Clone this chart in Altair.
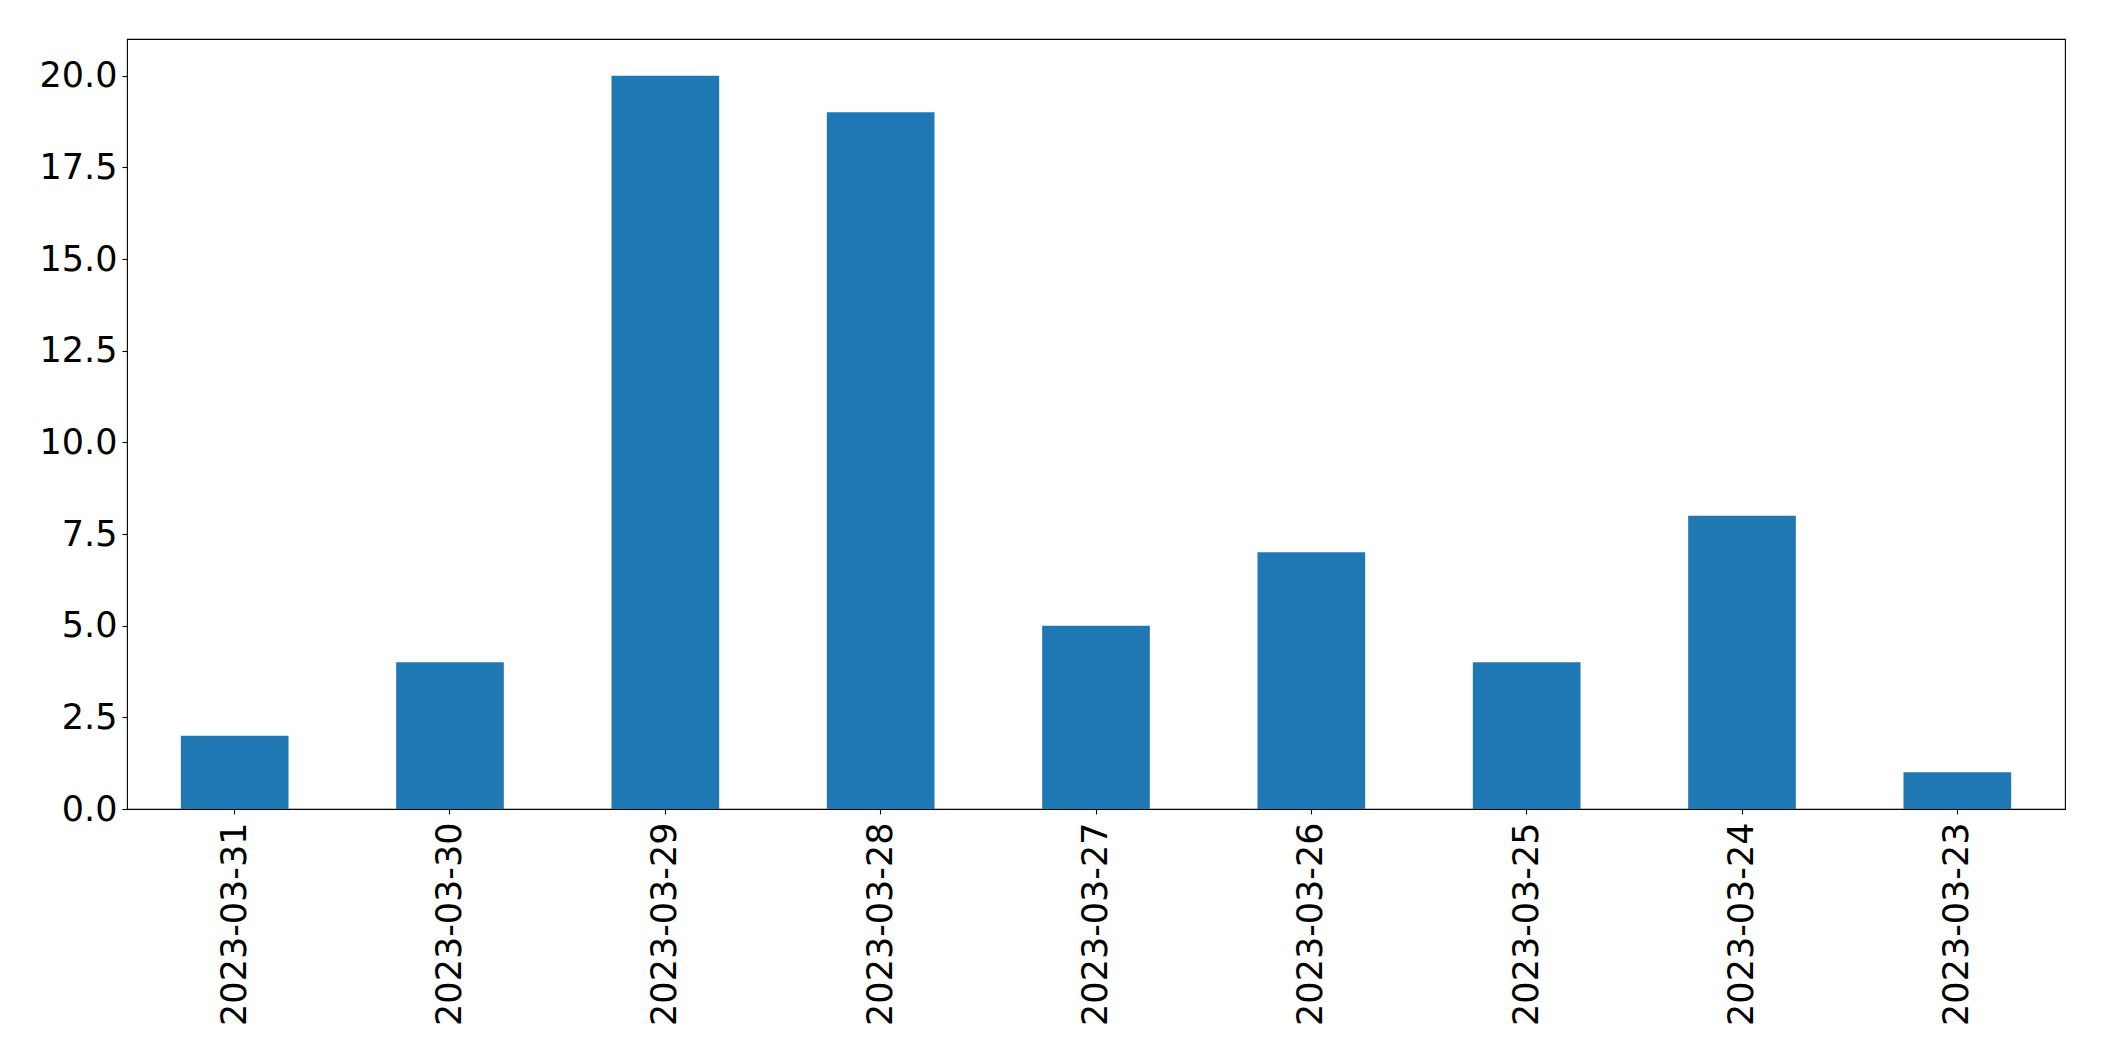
import altair as alt
import pandas as pd

dates = ["2023-03-31", "2023-03-30", "2023-03-29", "2023-03-28", "2023-03-27",
         "2023-03-26", "2023-03-25", "2023-03-24", "2023-03-23"]
counts = [2, 4, 20, 19, 5, 7, 4, 8, 1]
y_ticks = [0, 2.5, 5, 7.5, 10, 12.5, 15, 17.5, 20]

df = pd.DataFrame({"date": dates, "count": counts})

FONT = "DejaVu Sans"

chart = alt.Chart(df).mark_bar(color="#1f77b4").encode(
    x=alt.X("date:N", sort=None, title=None,
            scale=alt.Scale(paddingInner=0.5, paddingOuter=0.25),
            axis=alt.Axis(labelAngle=270, labelAlign="right", labelBaseline="middle",
                          labelPadding=8, labelFontSize=35, labelFont=FONT,
                          labelColor="black", tickColor="black", tickSize=5,
                          tickWidth=1.1, domain=False, grid=False, labelLimit=400)),
    y=alt.Y("count:Q", title=None,
            scale=alt.Scale(domain=[0, 21], nice=False, zero=True),
            axis=alt.Axis(values=y_ticks, format=".1f", labelFontSize=35, labelFont=FONT,
                          labelColor="black", tickColor="black", tickSize=5,
                          tickWidth=1.1, labelPadding=5, domain=False, grid=False)),
).properties(
    width=1938,
    height=770,
    autosize=alt.AutoSizeParams(type="none"),
    padding={"left": 119, "top": 31, "right": 30, "bottom": 244},
).configure_view(
    stroke="black", strokeWidth=1.1
)

chart.save("out.html", embed_options={"renderer": "svg", "actions": False})
